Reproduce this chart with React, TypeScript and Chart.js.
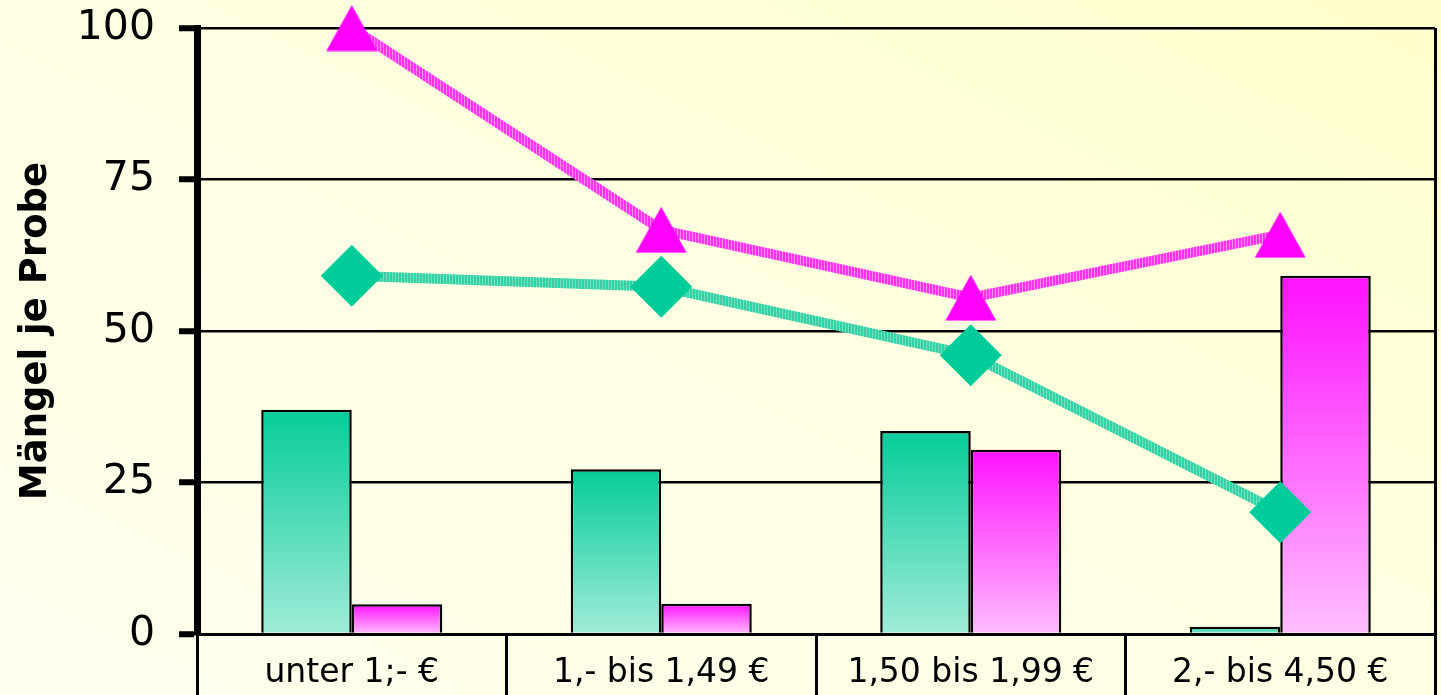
import { useEffect, useRef } from "react";
import { Chart, registerables } from "chart.js";

Chart.register(...registerables);

// Price bands on the category axis
const categories = ["unter 1;- €", "1,- bis 1,49 €", "1,50 bis 1,99 €", "2,- bis 4,50 €"];
// Bar series
const greenBars = [37.0, 27.2, 33.5, 1.2];
const pinkBars = [4.9, 5.0, 30.4, 59.1];
// Line series
const greenLine = [59.1, 57.3, 46.0, 20.1];
const pinkLine = [100, 66.7, 55.5, 65.9];
// Value axis
const yTicks = [0, 25, 50, 75, 100];
const yTitle = "Mängel je Probe";

const FONT = "'DejaVu Sans', sans-serif";

// Vertical-stripe pattern used for the thick connecting lines
function stripePattern(main: string, light: string): CanvasPattern | string {
  const c = document.createElement("canvas");
  c.width = 3;
  c.height = 1;
  const g = c.getContext("2d");
  if (!g) return main;
  g.fillStyle = main;
  g.fillRect(0, 0, 2, 1);
  g.fillStyle = light;
  g.fillRect(2, 0, 1, 1);
  return g.createPattern(c, "repeat") || main;
}

// Upward triangle marker, centred on its bounding box
function triangleMarker(color: string): HTMLCanvasElement {
  const c = document.createElement("canvas");
  c.width = 52;
  c.height = 47;
  const g = c.getContext("2d");
  if (g) {
    g.fillStyle = color;
    g.beginPath();
    g.moveTo(26, 0.5);
    g.lineTo(51.5, 46.5);
    g.lineTo(0.5, 46.5);
    g.closePath();
    g.fill();
  }
  return c;
}

// Each bar gets its own top-to-bottom gradient
function barFill(top: string, bottom: string) {
  return (ctx: any) => {
    const chart = ctx.chart;
    const y = chart.scales && chart.scales.y;
    if (!chart.chartArea || !y || typeof ctx.raw !== "number") return top;
    const y0 = y.getPixelForValue(0);
    const y1 = y.getPixelForValue(ctx.raw);
    if (Math.abs(y0 - y1) < 1) return top;
    const grad = chart.ctx.createLinearGradient(0, y1, 0, y0);
    grad.addColorStop(0, top);
    grad.addColorStop(1, bottom);
    return grad;
  };
}

export default function App() {
  const ref = useRef<HTMLCanvasElement>(null);

  useEffect(() => {
    const canvas = ref.current;
    if (!canvas) return;

    const chart = new Chart(canvas, {
      type: "bar",
      data: {
        labels: categories,
        datasets: [
          {
            type: "line",
            data: pinkLine,
            borderColor: stripePattern("#FF33EE", "#FF88F4") as any,
            borderWidth: 10,
            pointStyle: triangleMarker("#FF00FF") as any,
            pointRadius: 26,
            pointHoverRadius: 26,
            fill: false,
            tension: 0,
            clip: false as any,
            order: 0,
          },
          {
            type: "line",
            data: greenLine,
            borderColor: stripePattern("#33D1A3", "#70E0C0") as any,
            borderWidth: 10,
            pointStyle: "rectRot",
            pointRadius: 31,
            pointHoverRadius: 31,
            pointBackgroundColor: "#00CC99",
            pointBorderWidth: 0,
            fill: false,
            tension: 0,
            clip: false as any,
            order: 0,
          },
          {
            type: "bar",
            data: greenBars,
            backgroundColor: barFill("#05CC99", "#A0ECD8") as any,
            borderColor: "#000",
            borderWidth: 2.5,
            categoryPercentage: 0.585,
            barPercentage: 1,
            order: 1,
          },
          {
            type: "bar",
            data: pinkBars,
            backgroundColor: barFill("#FF11FF", "#FFBEFF") as any,
            borderColor: "#000",
            borderWidth: 2.5,
            categoryPercentage: 0.585,
            barPercentage: 1,
            order: 1,
          },
        ],
      },
      options: {
        responsive: false,
        animation: false,
        layout: { autoPadding: false, padding: { top: 28, right: 6, left: 0, bottom: 0 } },
        plugins: {
          legend: { display: false },
          tooltip: { enabled: false },
        },
        scales: {
          x: {
            offset: true,
            grid: {
              offset: true,
              drawOnChartArea: true,
              // only the closing line on the right runs through the plot area
              color: (c: any) => (c.type === "tick" ? "rgba(0,0,0,0)" : "#000"),
              lineWidth: 3,
              tickColor: "#000",
              tickWidth: 3,
              tickLength: 70,
            },
            border: { display: true, color: "#000", width: 3 },
            ticks: {
              color: "#000",
              font: { family: FONT, size: 33 },
              padding: -50,
              maxRotation: 0,
              autoSkip: false,
            },
            afterFit: (s: any) => {
              s.height = 61;
              s.paddingLeft = 0;
              s.paddingRight = 0;
            },
          },
          y: {
            min: 0,
            max: 100,
            afterBuildTicks: (s: any) => {
              s.ticks = yTicks.map((v) => ({ value: v }));
            },
            grid: {
              color: "#000",
              lineWidth: 2.5,
              tickColor: "#000",
              tickWidth: 6,
              tickLength: 18,
            },
            border: { display: true, color: "#000", width: 7 },
            ticks: {
              color: "#000",
              font: { family: FONT, size: 41 },
              padding: 24,
            },
            title: {
              display: true,
              text: yTitle,
              color: "#000",
              font: { family: FONT, size: 37, weight: "bold" },
              padding: { top: 14, bottom: 0 },
            },
            afterFit: (s: any) => {
              s.width = 197;
              s.paddingTop = 0;
              s.paddingBottom = 0;
            },
          },
        },
      },
    });

    return () => chart.destroy();
  }, []);

  return (
    <div
      style={{
        position: "fixed",
        left: 0,
        top: 0,
        width: 1441,
        height: 695,
        background: "linear-gradient(to top right, #FFFFEE 0%, #FFFFE4 50%, #FFFFCC 100%)",
      }}
    >
      <canvas ref={ref} width={1441} height={695} style={{ display: "block" }} />
    </div>
  );
}
